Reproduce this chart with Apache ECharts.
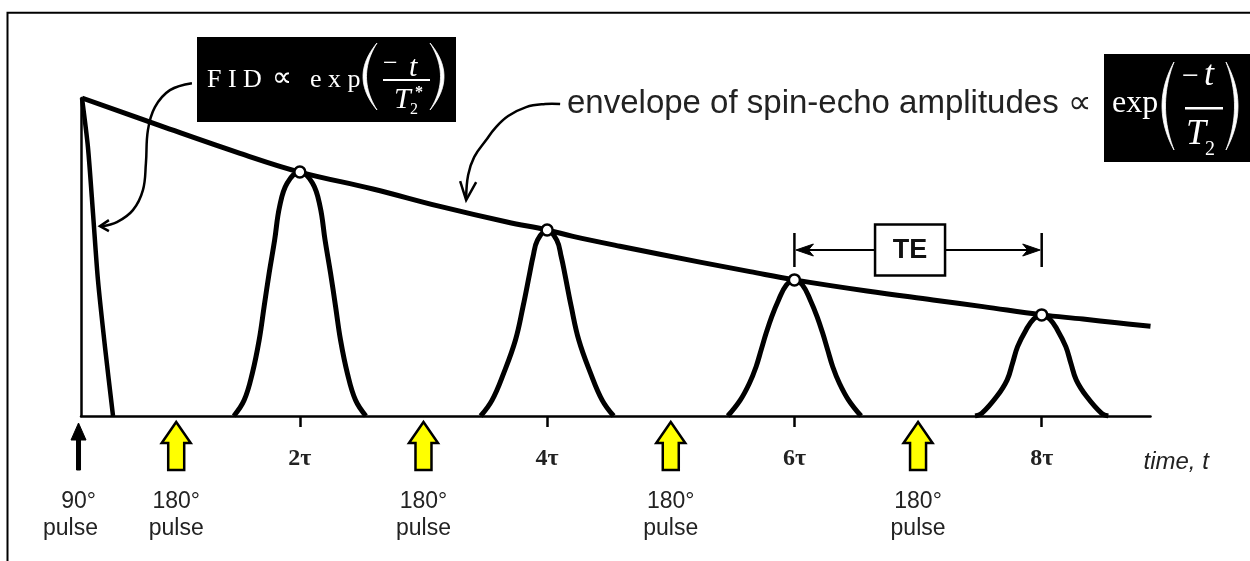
<!DOCTYPE html>
<html>
<head>
<meta charset="utf-8">
<title>Spin echo</title>
<script src="https://cdn.jsdelivr.net/npm/echarts@6/dist/echarts.min.js"></script>
<style>
html,body{margin:0;padding:0;background:#fff;}
#chart{width:1250px;height:561px;}
</style>
</head>
<body>
<div id="chart"></div>
<script>
// Time is in units of tau, signal amplitude in percent of the initial FID value.
const fidTime = [0.238, 0.286, 0.327, 0.367, 0.424, 0.489];
const fidAmp  = [100, 84.6, 63.8, 42.8, 21.7, 0];

const envelopeTime = [0.238, 0.869, 1.516, 2.0, 2.591, 3.133, 3.675, 4.0, 4.209, 4.589, 5.236, 5.641, 6.0, 6.587, 7.121, 7.525, 8.0, 8.334, 8.609, 8.88];
const envelopeAmp  = [100, 91.3, 82.6, 76.7, 71.4, 65.9, 61.0, 58.5, 56.5, 53.4, 48.4, 45.4, 42.8, 39.3, 36.5, 34.4, 31.8, 30.5, 29.3, 28.2];

const echo2Time = [1.466, 1.550, 1.616, 1.671, 1.711, 1.752, 1.796, 1.836, 1.897, 2.0, 2.103, 2.164, 2.204, 2.248, 2.289, 2.329, 2.384, 2.450, 2.534];
const echo2Amp  = [0, 5.0, 13.5, 23.9, 34.4, 45.0, 55.3, 65.8, 73.2, 76.7, 73.2, 65.8, 55.3, 45.0, 34.4, 23.9, 13.5, 5.0, 0];

const echo4Time = [3.462, 3.555, 3.649, 3.744, 3.805, 3.859, 3.886, 3.922, 4.0, 4.078, 4.114, 4.142, 4.195, 4.256, 4.351, 4.445, 4.538];
const echo4Amp  = [0, 5.0, 13.5, 23.9, 34.4, 44.9, 50.1, 55.3, 58.5, 55.3, 50.1, 44.9, 34.4, 23.9, 13.5, 5.0, 0];

const echo6Time = [5.461, 5.562, 5.636, 5.690, 5.731, 5.771, 5.816, 5.872, 5.935, 6.0, 6.065, 6.128, 6.184, 6.229, 6.269, 6.310, 6.364, 6.438, 6.539];
const echo6Amp  = [0, 5.0, 10.3, 15.5, 20.8, 26.0, 31.2, 36.5, 41.2, 42.8, 41.2, 36.5, 31.2, 26.0, 20.8, 15.5, 10.3, 5.0, 0];

const echo8Time = [7.461, 7.515, 7.636, 7.720, 7.764, 7.805, 7.872, 7.935, 8.0, 8.065, 8.128, 8.195, 8.236, 8.280, 8.364, 8.485, 8.539];
const echo8Amp  = [0, 0.8, 6.1, 11.3, 16.6, 21.8, 27.0, 30.5, 31.8, 30.5, 27.0, 21.8, 16.6, 11.3, 6.1, 0.8, 0];

const echoTimes  = [2, 4, 6, 8];
const echoPeaks  = [76.7, 58.5, 42.8, 31.8];
const tickLabels = ['2τ', '4τ', '6τ', '8τ'];

const pulse90Times  = [0.21];
const pulse180Times = [1, 3, 5, 7];

const teSpan  = [6, 8];
const teLevel = 52.2;

// points the two curved callout arrows end at
const fidArrowTip = [0.383, 59.7];
const envArrowTip = [3.345, 67.9];

const zip = (xs, ys) => xs.map((x, i) => [x, ys[i]]);

const SANS = '"Liberation Sans", Arial, sans-serif';
const SERIF = '"Liberation Serif", "Times New Roman", serif';
const INK = '#000';

function curve(name, t, a, width, smooth) {
  return {
    name: name, type: 'line', data: zip(t, a),
    smooth: smooth, showSymbol: false, symbol: 'none',
    lineStyle: { color: INK, width: width, cap: 'butt', join: 'round' },
    silent: true, z: 3
  };
}

function txt(text, x, y, font, fill, align) {
  return {
    type: 'text', x: x, y: y, silent: true,
    style: {
      text: text, font: font, fill: fill,
      textAlign: align || 'left', align: align || 'left',
      textVerticalAlign: 'middle', verticalAlign: 'middle'
    }
  };
}

// thin crescent shaped round bracket, built from two quadratic arcs
function paren(left, right, top, bottom, opening, color) {
  const mid = (top + bottom) / 2;
  const tipX = opening ? right : left;
  const outerC = opening ? 2 * left - right : 2 * right - left;
  const innerC = opening ? outerC + 7 : outerC - 7;
  const q = (c, s) => {
    const u = 1 - s;
    return [u * u * tipX + 2 * u * s * c + s * s * tipX, u * u * top + 2 * u * s * mid + s * s * bottom];
  };
  const pts = [];
  for (let i = 0; i <= 24; i++) pts.push(q(outerC, i / 24));
  for (let i = 24; i >= 0; i--) pts.push(q(innerC, i / 24));
  return { type: 'polygon', silent: true, shape: { points: pts }, style: { fill: color, stroke: color, lineWidth: 0.8 } };
}

const chart = echarts.init(document.getElementById('chart'), null, { renderer: 'canvas' });

const option = {
  animation: false,
  backgroundColor: '#fff',
  grid: { left: 81, right: 99.5, top: 98, bottom: 145, outerBoundsMode: 'none', containLabel: false },
  xAxis: {
    type: 'value', min: 0.23, max: 8.88,
    name: 'time, t', nameLocation: 'end', nameGap: -7,
    nameTextStyle: { fontFamily: SANS, fontStyle: 'italic', fontSize: 24, color: '#222', align: 'left', verticalAlign: 'top', padding: [34, 0, 0, 0] },
    axisLine: { onZero: false, lineStyle: { color: INK, width: 2.5 } },
    axisTick: { show: true, customValues: echoTimes, length: 11, lineStyle: { color: INK, width: 2.5 } },
    axisLabel: {
      show: true, customValues: echoTimes, margin: 31,
      formatter: v => tickLabels[echoTimes.indexOf(v)] || '',
      fontFamily: SERIF, fontWeight: 'bold', fontSize: 24, color: '#222'
    },
    splitLine: { show: false }
  },
  yAxis: {
    type: 'value', min: 0, max: 100,
    axisLine: { show: true, onZero: false, lineStyle: { color: INK, width: 2.5 } },
    axisTick: { show: false }, axisLabel: { show: false }, splitLine: { show: false }
  },
  series: [
    curve('echo 2τ', echo2Time, echo2Amp, 5, 0.4),
    curve('echo 4τ', echo4Time, echo4Amp, 5, 0.4),
    curve('echo 6τ', echo6Time, echo6Amp, 5, 0.4),
    curve('echo 8τ', echo8Time, echo8Amp, 5, 0.4),
    curve('FID', fidTime, fidAmp, 4.5, 0.25),
    Object.assign(curve('T2 envelope', envelopeTime, envelopeAmp, 5, 0.4), { z: 4 }),
    {
      name: 'echo peaks', type: 'scatter', data: zip(echoTimes, echoPeaks),
      symbol: 'circle', symbolSize: 11, silent: true, z: 6,
      itemStyle: { color: '#fff', borderColor: INK, borderWidth: 2.5, opacity: 1 }
    },
    {
      // 180 degree refocusing pulses
      name: '180 pulses', type: 'custom', silent: true, z: 5,
      data: pulse180Times.map(t => [t, 0]),
      encode: { x: 0, y: 1 },
      renderItem: (params, api) => {
        const p = api.coord([api.value(0), 0]);
        const cx = p[0], y0 = p[1];
        return {
          type: 'group', children: [
            { type: 'polygon', shape: { points: [[cx, y0 + 6], [cx + 14.5, y0 + 27], [cx + 8, y0 + 27], [cx + 8, y0 + 54], [cx - 8, y0 + 54], [cx - 8, y0 + 27], [cx - 14.5, y0 + 27]] },
              style: { fill: '#ffff00', stroke: INK, lineWidth: 2.5, lineJoin: 'miter' } },
            txt('180°', cx, y0 + 86, `23px ${SANS}`, '#222', 'center'),
            txt('pulse', cx, y0 + 113, `23px ${SANS}`, '#222', 'center')
          ]
        };
      }
    },
    {
      // 90 degree excitation pulse
      name: '90 pulse', type: 'custom', silent: true, z: 5,
      data: pulse90Times.map(t => [t, 0]),
      encode: { x: 0, y: 1 },
      renderItem: (params, api) => {
        const p = api.coord([api.value(0), 0]);
        const cx = p[0], y0 = p[1];
        return {
          type: 'group', children: [
            { type: 'polygon', shape: { points: [[cx, y0 + 7], [cx + 7.5, y0 + 24], [cx + 2, y0 + 24], [cx + 2, y0 + 54], [cx - 2, y0 + 54], [cx - 2, y0 + 24], [cx - 7.5, y0 + 24]] },
              style: { fill: INK, stroke: INK, lineWidth: 1 } },
            txt('90°', cx, y0 + 86, `23px ${SANS}`, '#222', 'center'),
            txt('pulse', cx - 8, y0 + 113, `23px ${SANS}`, '#222', 'center')
          ]
        };
      }
    },
    {
      // echo time bracket between two successive echoes
      name: 'TE', type: 'custom', silent: true, z: 5,
      data: [[teSpan[0], teSpan[1], teLevel]],
      encode: { x: [0, 1], y: 2 },
      renderItem: (params, api) => {
        const a = api.coord([api.value(0), api.value(2)]);
        const b = api.coord([api.value(1), api.value(2)]);
        const xa = a[0], xb = b[0], y = a[1];
        const bw = 70, bh = 51;
        const bx = (xa + xb) / 2 - 8 - bw / 2;
        const ln = { stroke: INK, lineWidth: 2.5 };
        return {
          type: 'group', children: [
            { type: 'line', shape: { x1: xa, y1: y - 17, x2: xa, y2: y + 17 }, style: ln },
            { type: 'line', shape: { x1: xb, y1: y - 17, x2: xb, y2: y + 17 }, style: ln },
            { type: 'line', shape: { x1: xa + 4, y1: y, x2: bx, y2: y }, style: { stroke: INK, lineWidth: 2 } },
            { type: 'line', shape: { x1: bx + bw, y1: y, x2: xb - 4, y2: y }, style: { stroke: INK, lineWidth: 2 } },
            { type: 'polygon', shape: { points: [[xa + 1.5, y], [xa + 19, y - 6], [xa + 14, y], [xa + 19, y + 6]] }, style: { fill: INK, stroke: INK, lineWidth: 1 } },
            { type: 'polygon', shape: { points: [[xb - 1.5, y], [xb - 19, y - 6], [xb - 14, y], [xb - 19, y + 6]] }, style: { fill: INK, stroke: INK, lineWidth: 1 } },
            { type: 'rect', shape: { x: bx, y: y - bh / 2, width: bw, height: bh }, style: { fill: '#fff', stroke: INK, lineWidth: 2.5 } },
            txt('TE', bx + bw / 2, y + 1, `bold 27px ${SANS}`, '#111', 'center')
          ]
        };
      }
    },
    {
      // callout from the FID formula to the FID curve
      name: 'FID callout', type: 'custom', silent: true, z: 5,
      data: [fidArrowTip], encode: { x: 0, y: 1 },
      renderItem: (params, api) => {
        const p = api.coord([api.value(0), api.value(1)]);
        return {
          type: 'group', x: p[0], y: p[1], children: [
            { type: 'polyline', shape: { points: [[92, -143], [70, -136], [55, -119], [48, -96], [46, -63], [43, -36], [33, -16], [17, -4], [2, 0]], smooth: 0.4 },
              style: { fill: null, stroke: INK, lineWidth: 2.5 } },
            { type: 'polyline', shape: { points: [[9, -6], [0, 0], [9, 5]] }, style: { fill: null, stroke: INK, lineWidth: 2.5 } }
          ]
        };
      }
    },
    {
      // callout from the envelope caption to the envelope curve
      name: 'envelope callout', type: 'custom', silent: true, z: 5,
      data: [envArrowTip], encode: { x: 0, y: 1 },
      renderItem: (params, api) => {
        const p = api.coord([api.value(0), api.value(1)]);
        return {
          type: 'group', x: p[0], y: p[1], children: [
            { type: 'polyline', shape: { points: [[94, -96], [79, -96], [60, -93], [42, -84], [29, -72], [20, -60], [8, -43], [2, -25], [0, -2]], smooth: 0.4 },
              style: { fill: null, stroke: INK, lineWidth: 2.5 } },
            { type: 'polyline', shape: { points: [[-6, -19], [0, 0], [10, -18]] }, style: { fill: null, stroke: INK, lineWidth: 2.5 } }
          ]
        };
      }
    }
  ],
  graphic: [
    { type: 'rect', silent: true, shape: { x: 7.5, y: 12.8, width: 1300, height: 700 }, style: { fill: null, stroke: INK, lineWidth: 2 } },
    // FID formula
    { type: 'rect', silent: true, shape: { x: 197, y: 37, width: 259, height: 85 }, style: { fill: '#000' } },
    txt('F I D', 207, 80.5, `26px ${SERIF}`, '#fff'),
    txt('∝', 272, 79, `28px ${SERIF}`, '#fff'),
    txt('e x p', 310, 80.5, `26px ${SERIF}`, '#fff'),
    paren(363, 377, 43, 110, true, '#fff'),
    paren(430, 444, 43, 110, false, '#fff'),
    txt('−', 383, 64, `26px ${SERIF}`, '#fff'),
    txt('t', 409, 68, `italic 30px ${SERIF}`, '#fff'),
    { type: 'rect', silent: true, shape: { x: 383, y: 79, width: 47, height: 2 }, style: { fill: '#fff' } },
    txt('T', 394, 99.8, `italic 30px ${SERIF}`, '#fff'),
    txt('2', 410, 109.6, `16px ${SERIF}`, '#fff'),
    txt('*', 415, 92.8, `bold 16px ${SERIF}`, '#fff'),
    // envelope caption
    txt('envelope of spin-echo amplitudes ∝', 567, 104, `33px ${SANS}`, '#222'),
    { type: 'rect', silent: true, shape: { x: 1104, y: 54, width: 150, height: 108 }, style: { fill: '#000' } },
    txt('exp', 1112, 104, `32px ${SERIF}`, '#fff'),
    paren(1162, 1174, 62, 150, true, '#fff'),
    paren(1226, 1238, 62, 150, false, '#fff'),
    txt('−', 1182, 77, `30px ${SERIF}`, '#fff'),
    txt('t', 1204, 75.8, `italic 36px ${SERIF}`, '#fff'),
    { type: 'rect', silent: true, shape: { x: 1185, y: 107, width: 38, height: 2.5 }, style: { fill: '#fff' } },
    txt('T', 1186, 134.8, `italic 36px ${SERIF}`, '#fff'),
    txt('2', 1205, 150.2, `20px ${SERIF}`, '#fff')
  ]
};

chart.setOption(option);
</script>
</body>
</html>
